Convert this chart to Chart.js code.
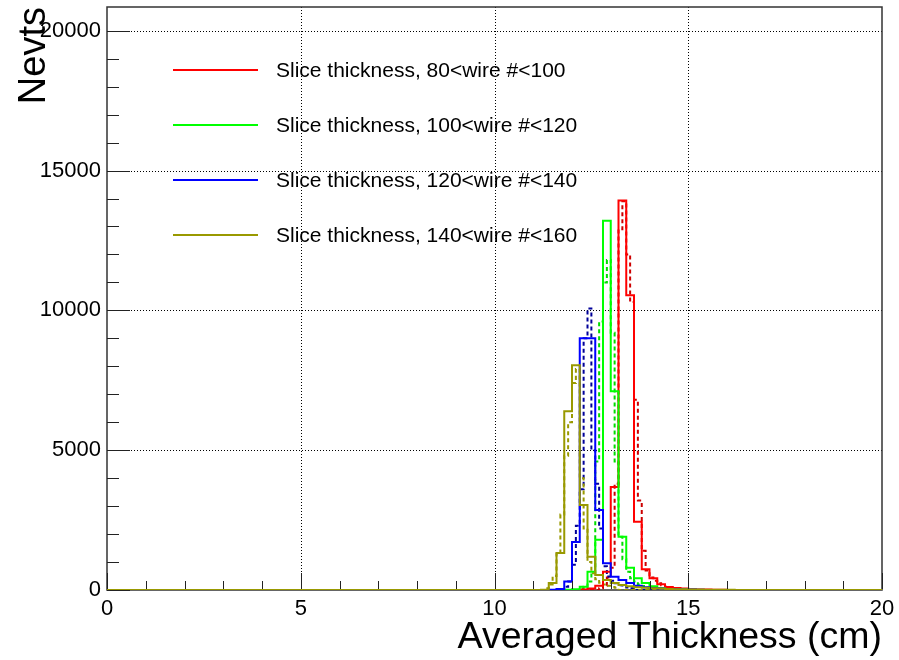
<!DOCTYPE html>
<html>
<head>
<meta charset="utf-8">
<script src="https://cdn.jsdelivr.net/npm/chart.js@4.4.0/dist/chart.umd.min.js"></script>
<style>
  html, body { margin: 0; padding: 0; background: #fff; }
</style>
</head>
<body>
<canvas id="thicknessChart" width="899" height="660"></canvas>
<script>
// solid histograms, 0.2 cm bins, first bin left edge given by *Start
const solidBin = 0.2;
const redStart = 12.2;
const redCounts = [20, 50, 150, 650, 3680, 13930, 10540, 2440, 740, 420, 210, 110, 70, 50, 30, 20, 15, 10, 5];
const greenStart = 11.8;
const greenCounts = [10, 30, 120, 650, 1800, 13210, 7110, 1900, 800, 420, 250, 130, 70, 40, 25, 15, 10];
const blueStart = 11.4;
const blueCounts = [10, 40, 300, 1720, 9000, 9000, 2860, 960, 475, 357, 250, 150, 100, 70, 50, 35, 25, 20, 15, 10];
const oliveStart = 11.2;
const oliveCounts = [10, 250, 1320, 6390, 8040, 3040, 1190, 540, 360, 250, 180, 130, 100, 80, 60, 50, 40, 30, 25, 20, 15, 12, 10, 8, 5];

// dashed histograms, 0.1 cm bins
const dashBin = 0.1;
const redDashStart = 12.7;
const redDashCounts = [60, 150, 450, 800, 3800, 12900, 13900, 12000, 10300, 6800, 3200, 1400, 700, 450, 330, 240, 170, 120, 80, 60, 40, 30];
const greenDashStart = 12.2;
const greenDashCounts = [50, 120, 300, 600, 4600, 9600, 11000, 11800, 9200, 4600, 1900, 1100, 650, 420, 300, 200, 140, 90, 60, 40];
const blueDashStart = 11.7;
const blueDashCounts = [40, 120, 300, 900, 2300, 3600, 9000, 10070, 5000, 3800, 2200, 850, 480, 330, 240, 170, 120, 90, 60];
const oliveDashStart = 11.3;
const oliveDashCounts = [60, 200, 500, 1300, 2700, 4800, 6000, 7400, 7900, 4000, 2200, 1000, 600, 380, 260, 200, 150, 110, 80];

const legendLabels = [
  "Slice thickness, 80<wire #<100",
  "Slice thickness, 100<wire #<120",
  "Slice thickness, 120<wire #<140",
  "Slice thickness, 140<wire #<160",
];
const xMajorTicks = [0, 5, 10, 15, 20];
const yMajorTicks = [0, 5000, 10000, 15000, 20000];

const RED = "#ff0000", GREEN = "#00ff00", BLUE = "#0000ff", OLIVE = "#999900";
const legendColors = [RED, GREEN, BLUE, OLIVE];
const FONT = "'Liberation Sans', Arial, Helvetica, sans-serif";

function histPoints(start, width, counts) {
  const pts = [{ x: 0, y: 0 }];
  counts.forEach((c, i) => pts.push({ x: +(start + i * width).toFixed(2), y: c }));
  pts.push({ x: +(start + counts.length * width).toFixed(2), y: 0 });
  pts.push({ x: 20, y: 0 });
  return pts;
}

function histDataset(pts, color, dashed, order) {
  return {
    data: pts,
    borderColor: color,
    borderWidth: 2,
    borderDash: dashed ? [4, 3] : [],
    stepped: "before",
    pointRadius: 0,
    fill: false,
    order: order,
  };
}

const rootFrame = {
  id: "rootFrame",
  beforeDatasetsDraw(chart) {
    const { ctx, chartArea: a, scales: { x, y } } = chart;
    ctx.save();
    ctx.strokeStyle = "#000";
    ctx.lineWidth = 1;
    ctx.setLineDash([1, 2]);
    xMajorTicks.slice(1, -1).forEach((v) => {
      const px = Math.round(x.getPixelForValue(v)) + 0.5;
      ctx.beginPath(); ctx.moveTo(px, a.top); ctx.lineTo(px, a.bottom); ctx.stroke();
    });
    yMajorTicks.slice(1).forEach((v) => {
      const py = Math.round(y.getPixelForValue(v)) + 0.5;
      ctx.beginPath(); ctx.moveTo(a.left, py); ctx.lineTo(a.right, py); ctx.stroke();
    });
    ctx.setLineDash([]);
    // frame (histograms are drawn over it, as in the original)
    ctx.strokeStyle = "#333";
    ctx.lineWidth = 1.5;
    ctx.strokeRect(a.left, a.top, a.right - a.left, a.bottom - a.top);
    ctx.restore();
  },
  afterDatasetsDraw(chart) {
    const { ctx, chartArea: a, scales: { x, y } } = chart;
    ctx.save();
    ctx.strokeStyle = "#222";
    ctx.lineWidth = 1;
    // x ticks
    for (let v = 0; v <= 20; v += 1) {
      const px = Math.round(x.getPixelForValue(v)) + 0.5;
      const len = v % 5 === 0 ? 17 : 9;
      ctx.beginPath(); ctx.moveTo(px, a.bottom - 1); ctx.lineTo(px, a.bottom - len); ctx.stroke();
    }
    // y ticks
    for (let v = 0; v <= 20000; v += 1000) {
      const py = Math.round(y.getPixelForValue(v)) + 0.5;
      const len = v % 5000 === 0 ? 23 : 12;
      ctx.beginPath(); ctx.moveTo(a.left, py); ctx.lineTo(a.left + len, py); ctx.stroke();
    }

    // legend
    ctx.font = "21px " + FONT;
    ctx.textBaseline = "middle";
    ctx.fillStyle = "#000";
    legendLabels.forEach((label, i) => {
      const ly = 70 + i * 55;
      ctx.strokeStyle = legendColors[i];
      ctx.lineWidth = 2;
      ctx.beginPath(); ctx.moveTo(173, ly); ctx.lineTo(258, ly); ctx.stroke();
      ctx.fillText(label, 276, ly + 1);
    });
    ctx.restore();
  },
};

new Chart(document.getElementById("thicknessChart"), {
  type: "line",
  data: {
    datasets: [
      histDataset(histPoints(oliveStart, solidBin, oliveCounts), OLIVE, false, 0),
      histDataset(histPoints(blueStart, solidBin, blueCounts), BLUE, false, 1),
      histDataset(histPoints(greenStart, solidBin, greenCounts), GREEN, false, 2),
      histDataset(histPoints(redStart, solidBin, redCounts), RED, false, 3),
      histDataset(histPoints(oliveDashStart, dashBin, oliveDashCounts), OLIVE, true, 4),
      histDataset(histPoints(blueDashStart, dashBin, blueDashCounts), "#000099", true, 5),
      histDataset(histPoints(greenDashStart, dashBin, greenDashCounts), "#00dd00", true, 6),
      histDataset(histPoints(redDashStart, dashBin, redDashCounts), "#cc0000", true, 7),
    ],
  },
  options: {
    responsive: false,
    animation: false,
    devicePixelRatio: 1,
    layout: { padding: { top: 7, right: 17, bottom: 0, left: 0 } },
    plugins: { legend: { display: false }, tooltip: { enabled: false } },
    scales: {
      x: {
        type: "linear",
        min: 0,
        max: 20,
        grid: { display: false, drawTicks: false },
        border: { display: false },
        ticks: {
          padding: 6,
          color: "#000",
          font: { family: FONT, size: 22 },
          maxRotation: 0,
          callback: (v) => String(v),
        },
        afterBuildTicks(scale) { scale.ticks = xMajorTicks.map((v) => ({ value: v })); },
        title: {
          display: true,
          text: "Averaged Thickness (cm)",
          align: "end",
          color: "#000",
          font: { family: FONT, size: 37.5 },
          padding: { top: 0, bottom: 0 },
        },
        afterFit(scale) {
          scale.height = 70;
          scale.paddingLeft = 0;
          scale.paddingRight = 0;
        },
      },
      y: {
        min: 0,
        max: 20850,
        grid: { display: false, drawTicks: false },
        border: { display: false },
        ticks: {
          padding: 6,
          color: "#000",
          font: { family: FONT, size: 22 },
          callback: (v) => String(v),
        },
        afterBuildTicks(scale) { scale.ticks = yMajorTicks.map((v) => ({ value: v })); },
        title: {
          display: true,
          text: "Nevts",
          align: "end",
          color: "#000",
          font: { family: FONT, size: 38 },
          padding: { top: 12, bottom: 0 },
        },
        afterFit(scale) {
          scale.width = 107;
          scale.paddingTop = 0;
          scale.paddingBottom = 0;
        },
      },
    },
  },
  plugins: [rootFrame],
});
</script>
</body>
</html>
